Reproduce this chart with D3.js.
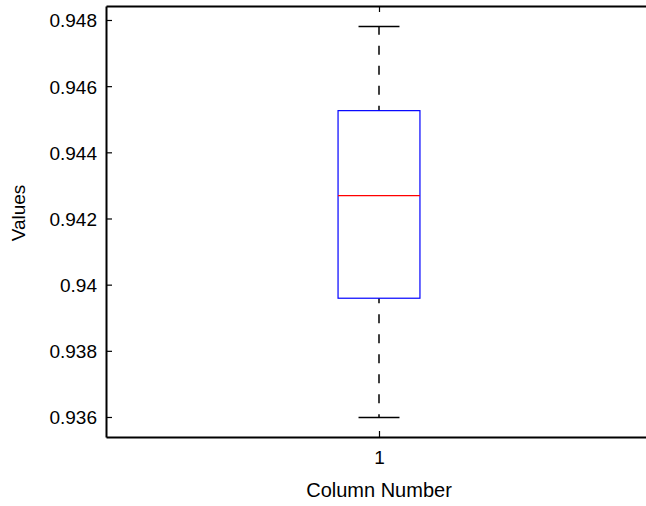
<!DOCTYPE html>
<html>
<head>
<meta charset="utf-8">
<script src="https://cdn.jsdelivr.net/npm/d3@7"></script>
<style>
  html, body { margin: 0; padding: 0; background: #fff; }
  svg text { font-family: "Liberation Sans", Arial, Helvetica, sans-serif; fill: #000; }
</style>
</head>
<body>
<div id="chart"></div>
<script>
// boxplot stats
const columns = [1];
const lowerWhisker = [0.93599];
const q1 = [0.93959];
const median = [0.94269];
const q3 = [0.94526];
const upperWhisker = [0.94782];
const yTicks = [0.936, 0.938, 0.94, 0.942, 0.944, 0.946, 0.948];
const xTicks = [1];

const width = 646;
const height = 506;
const plot = { left: 106, top: 6, right: 652, bottom: 437 };

const svg = d3.select('#chart').append('svg')
    .attr('width', width)
    .attr('height', height);

const x = d3.scaleLinear().domain([0.5, 1.5]).range([plot.left, plot.right]);
const y = d3.scaleLinear().domain([0.935395, 0.948423]).range([plot.bottom, plot.top]);

const boxHalf = 0.075;
const capHalf = 0.0375;

const boxes = svg.append('g').selectAll('g')
    .data(columns.map((c, i) => ({
        c, lo: lowerWhisker[i], q1: q1[i], med: median[i], q3: q3[i], hi: upperWhisker[i]
    })))
    .enter().append('g');

// dashed whiskers
boxes.append('line')
    .attr('x1', d => x(d.c)).attr('x2', d => x(d.c))
    .attr('y1', d => y(d.q3)).attr('y2', d => y(d.hi))
    .attr('stroke', '#000').attr('stroke-width', 1.5)
    .attr('stroke-dasharray', '9,11').attr('stroke-dashoffset', 4);
boxes.append('line')
    .attr('x1', d => x(d.c)).attr('x2', d => x(d.c))
    .attr('y1', d => y(d.q1)).attr('y2', d => y(d.lo))
    .attr('stroke', '#000').attr('stroke-width', 1.5)
    .attr('stroke-dasharray', '9,11').attr('stroke-dashoffset', 4);

// caps
boxes.selectAll('.cap')
    .data(d => [{ c: d.c, v: d.hi }, { c: d.c, v: d.lo }])
    .enter().append('line')
    .attr('class', 'cap')
    .attr('x1', d => x(d.c - capHalf)).attr('x2', d => x(d.c + capHalf))
    .attr('y1', d => Math.round(y(d.v)) + 0.5).attr('y2', d => Math.round(y(d.v)) + 0.5)
    .attr('stroke', '#000').attr('stroke-width', 1.5);

// box
boxes.append('rect')
    .attr('x', d => x(d.c - boxHalf))
    .attr('y', d => y(d.q3))
    .attr('width', d => x(d.c + boxHalf) - x(d.c - boxHalf))
    .attr('height', d => y(d.q1) - y(d.q3))
    .attr('fill', 'none')
    .attr('stroke', '#0000ff').attr('stroke-width', 1.2);

// median
boxes.append('line')
    .attr('x1', d => x(d.c - boxHalf)).attr('x2', d => x(d.c + boxHalf))
    .attr('y1', d => y(d.med)).attr('y2', d => y(d.med))
    .attr('stroke', '#ff0000').attr('stroke-width', 1.2);

// axes (ticks pointing inward, MATLAB style)
const yAxis = svg.append('g')
    .attr('transform', `translate(${plot.left},0)`)
    .call(d3.axisLeft(y).tickValues(yTicks).tickSizeInner(-6).tickSizeOuter(0).tickPadding(9)
        .tickFormat(d => d3.format('')(+d.toFixed(3))));
yAxis.select('.domain').attr('stroke-width', 2);
yAxis.selectAll('.tick line').attr('stroke-width', 1.2);
yAxis.selectAll('text').attr('font-size', 19)
    .attr('x', -9).attr('dy', '0.36em');

const xAxis = svg.append('g')
    .attr('transform', `translate(0,${plot.bottom})`)
    .call(d3.axisBottom(x).tickValues(xTicks).tickSizeInner(-6).tickSizeOuter(0).tickPadding(12)
        .tickFormat(d3.format('d')));
xAxis.select('.domain').attr('stroke-width', 2);
xAxis.selectAll('.tick line').attr('stroke-width', 1.2);
xAxis.selectAll('text').attr('font-size', 19).attr('y', 14);

// top edge with inward tick
const xTop = svg.append('g')
    .attr('transform', `translate(0,${plot.top})`)
    .call(d3.axisTop(x).tickValues(xTicks).tickSizeInner(-6).tickSizeOuter(0).tickFormat(''));
xTop.select('.domain').attr('stroke-width', 2);
xTop.selectAll('.tick line').attr('stroke-width', 1.2);

// axis labels
svg.append('text')
    .attr('x', x(1))
    .attr('y', 497)
    .attr('text-anchor', 'middle')
    .attr('font-size', 20)
    .text('Column Number');

svg.append('text')
    .attr('transform', 'translate(25,213) rotate(-90)')
    .attr('text-anchor', 'middle')
    .attr('font-size', 19)
    .text('Values');
</script>
</body>
</html>
